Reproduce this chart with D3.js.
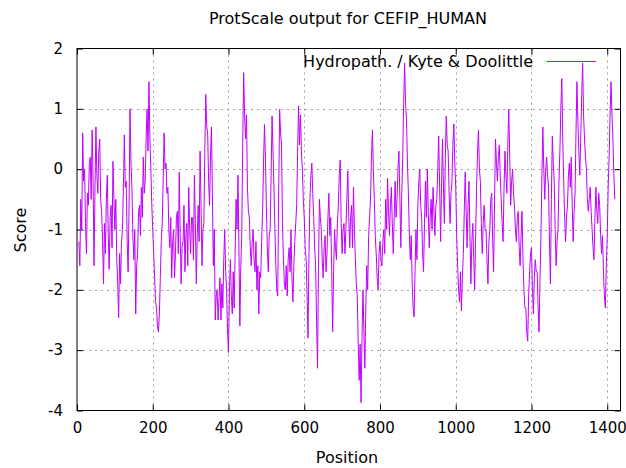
<!DOCTYPE html>
<html>
<head>
<meta charset="utf-8">
<script src="https://cdn.jsdelivr.net/npm/d3@7"></script>
<style>
  body { margin: 0; background: #fff; }
  text { font-family: "DejaVu Sans", sans-serif; fill: #000; }
</style>
</head>
<body>
<script>
// chart texts
var chartTitle = "ProtScale output for CEFIP_HUMAN";
var seriesName = "Hydropath. / Kyte & Doolittle";
var xTitle = "Position", yTitle = "Score";

// tick values
var xTicks = [0, 200, 400, 600, 800, 1000, 1200, 1400];
var yTicks = [-4, -3, -2, -1, 0, 1, 2];

// window scores, one every 2.5 residues starting at 5
var firstPos = 5, posStep = 2.5;
var scores = [
  -1.2, -1.6, -0.5, -1.0, 0.6, -0.2, 0.0, -0.9, -1.4, -0.4,
  -0.6, 0.1, 0.2, -0.5, 0.65, -0.2, -1.6, -0.3, 0.7, -0.1,
  -0.4, 0.3, 0.5, -0.5, -0.7, -1.2, -1.9, -0.9, -1.4, -0.5,
  -0.1, -1.1, -1.66, -0.8, -0.6, -1.3, 0.13, -0.5, -1.0, -0.5,
  -1.5, -1.9, -2.46, -1.4, -1.9, -1.2, -1.0, -0.3, 0.57, -0.3,
  -0.2, -1.2, -1.7, -0.6, 1.0, 0.1, -0.3, -1.1, -1.5, -1.0,
  -2.4, -1.6, -1.4, -0.7, -0.6, -1.1, -0.3, -0.8, 0.2, -0.4,
  -0.2, 0.5, 1.0, 0.3, 1.45, 0.5, 0.0, -0.6, -1.0, -1.4,
  -1.8, -2.2, -2.3, -2.6, -2.7, -2.4, -1.8, -1.2, -0.9, -0.2,
  0.6, 0.0, 0.1, -0.4, -0.3, -1.0, -1.3, -0.8, -1.8, -1.2,
  -1.0, -1.8, -1.4, -0.8, -0.7, -1.4, -0.05, -1.1, -1.9, -1.3,
  -1.2, -0.6, -1.7, -1.1, -0.9, -1.6, -0.3, -1.0, -1.4, -0.8,
  -0.8, -1.5, -0.1, -0.9, -1.9, -1.1, -0.6, -1.2, 0.3, -0.6,
  -1.6, -1.0, -0.9, 0.3, 1.24, 0.7, 0.6, -0.2, -0.6, 0.2,
  0.7, -0.4, -1.6, -1.0, -2.5, -2.1, -2.0, -2.5, -2.15, -1.8,
  -2.5, -1.9, -2.3, -1.5, -1.0, -1.7, -2.0, -2.7, -3.04, -2.0,
  -1.5, -2.1, -2.4, -1.7, -2.3, -1.4, -0.5, -1.0, -0.1, -1.3,
  -2.6, -1.6, -1.1, 0.4, 1.6, 0.9, 0.5, 0.9, -0.3, -0.7,
  -0.8, -1.3, -1.6, -1.2, -1.0, -1.5, -1.7, -1.2, -2.0, -1.6,
  -2.4, -1.7, -1.8, -1.2, -0.7, 0.1, 0.74, 0.2, -0.6, -1.3,
  -1.7, -1.1, -1.0, -0.1, 0.88, 0.3, -0.3, -1.0, -1.6, -2.0,
  -2.1, -0.4, 0.99, 0.6, 0.4, -0.9, -1.5, -1.9, -2.0, -1.6,
  -2.1, -1.5, -1.3, -1.7, -1.0, -1.8, -2.2, -1.6, -1.2, -0.9,
  -0.6, 0.3, 1.05, 0.4, 0.9, 0.3, 0.0, -0.5, -0.8, -1.3,
  -1.5, -2.1, -2.8, -1.4, -0.5, -0.1, 0.1, -0.4, -0.8, -1.3,
  -1.6, -2.5, -3.3, -1.7, -0.5, -0.8, -1.0, -1.5, -1.8, -1.3,
  -1.1, -1.7, -1.4, -0.8, -0.4, -1.1, -0.8, -1.7, -2.7, -1.7,
  -1.0, -1.3, -1.5, -0.9, -0.6, -0.1, 0.15, -0.9, -1.4, -1.0,
  -0.9, -1.4, -1.0, -0.5, -0.03, -0.8, -1.3, -0.8, -0.6, -1.3,
  -0.3, -1.0, -1.5, -1.9, -2.1, -2.9, -3.5, -2.9, -3.87, -2.8,
  -2.0, -2.7, -3.3, -2.3, -1.6, -2.0, -1.1, -0.8, -0.5, 0.2,
  0.65, 0.0, -0.5, -1.1, -1.4, -1.8, -2.0, -1.4, -1.2, -1.5,
  -1.6, -1.2, -1.0, -1.4, -0.5, -1.0, -0.15, -0.7, -1.1, -0.6,
  -0.3, -0.9, -1.4, -0.8, -0.2, -0.8, -0.5, 0.0, 0.3, -0.5,
  -1.3, -0.4, 0.2, 1.1, 1.76, 1.1, 0.8, 0.1, -0.4, -1.1,
  -1.5, -1.1, -1.9, -2.3, -2.45, -1.7, -1.0, -1.5, -0.6, -0.2,
  0.0, -0.6, -0.8, -1.4, -1.7, -0.9, -0.2, -0.8, 0.0, -0.7,
  -1.3, -0.8, -0.5, -1.0, -0.3, -0.7, -1.1, -0.6, -0.5, 0.0,
  0.55, -0.3, -1.2, -0.3, 0.5, -0.3, -0.9, 0.2, 0.88, 0.4,
  0.3, -0.4, -0.9, -0.4, -0.2, 0.4, 0.75, 0.1, -0.3, -1.1,
  -1.6, -2.0, -2.2, -1.7, -2.35, -1.8, -1.4, -0.7, -0.05, -0.7,
  -1.3, -0.6, -0.2, -1.1, -1.9, -1.2, -0.9, -1.5, -2.0, -1.1,
  -0.3, 0.3, 0.65, 0.0, -0.2, -0.9, -1.4, -0.9, -0.6, -1.0,
  -1.0, -1.5, -1.9, -1.2, -1.0, -0.5, -0.4, -1.2, -1.7, -0.5,
  0.5, 0.1, -0.2, 0.2, 0.4, -0.1, -0.5, -0.9, -1.2, -0.3,
  0.3, -0.1, -0.4, 0.4, 0.99, 0.2, -0.6, -0.2, 0.0, -0.4,
  -0.6, -1.0, -1.2, -0.8, -0.7, -1.3, -1.6, -1.1, -0.7, -1.5,
  -2.0, -2.3, -2.3, -2.7, -2.85, -2.1, -1.7, -1.4, -1.3, -2.0,
  -2.4, -1.8, -1.5, -1.7, -1.7, -2.3, -2.7, -1.8, -1.1, -0.1,
  0.7, 0.0, -0.5, 0.0, 0.2, -0.1, -0.3, -1.2, -1.9, -0.5,
  0.55, 0.1, -0.2, -1.0, -1.6, -1.2, -1.0, -0.2, 0.3, 1.0,
  1.5, 0.5, -0.2, -0.8, -1.2, -0.8, -0.6, -0.1, 0.1, -0.3,
  0.2, -0.6, -1.2, -0.7, -0.4, 0.6, 1.45, 0.8, 0.3, -0.1,
  0.5, 1.2, 1.76, 0.9, 0.5, 0.2, 0.0, -0.5, -0.7, -0.5,
  -0.3, -0.7, -1.0, -1.3, -1.5, -0.8, -0.3, -0.7, -0.9, -0.4,
  -0.6, -1.1, -1.4, -1.1, -1.7, -2.1, -2.3, -1.6, -1.1, -0.3,
  0.2, 0.9, 1.45, 0.9, 0.5, -0.1, -0.5
];
var seqLength = 1435;

var width = 626, height = 468;
var plot = {left: 77, right: 620.5, top: 48.5, bottom: 410.5};
var lineColor = "#c000ff";

var svg = d3.select("body").append("svg")
  .attr("width", width)
  .attr("height", height);

var x = d3.scaleLinear().domain([0, seqLength]).range([plot.left, plot.right]);
var y = d3.scaleLinear().domain([-4, 2]).range([plot.bottom, plot.top]);

// dotted grid
var grid = svg.append("g").attr("class", "grid")
  .attr("stroke", "#a0a0a0").attr("stroke-width", 1).attr("stroke-dasharray", "2,4");
grid.selectAll(".gx").data(xTicks.filter(function(d) { return d > 0; }))
  .enter().append("line")
  .attr("x1", function(d) { return Math.round(x(d)) + 0.5; })
  .attr("x2", function(d) { return Math.round(x(d)) + 0.5; })
  .attr("y1", plot.top).attr("y2", plot.bottom);
grid.selectAll(".gy").data(yTicks.filter(function(d) { return d > -4 && d < 2; }))
  .enter().append("line")
  .attr("y1", function(d) { return Math.round(y(d)) + 0.5; })
  .attr("y2", function(d) { return Math.round(y(d)) + 0.5; })
  .attr("x1", plot.left).attr("x2", plot.right);

// axes, ticks inward on all four sides (gnuplot mirror)
var tickLen = 6;
svg.append("g")
  .attr("transform", "translate(0," + plot.bottom + ")")
  .call(d3.axisBottom(x).tickValues(xTicks).tickSizeInner(-tickLen).tickSizeOuter(0).tickPadding(12)
    .tickFormat(function(d) { return String(d); }))
  .call(function(g) { g.select(".domain").remove(); g.selectAll("text").attr("font-size", 15).attr("font-family", "DejaVu Sans"); });
svg.append("g")
  .attr("transform", "translate(0," + plot.top + ")")
  .call(d3.axisTop(x).tickValues(xTicks).tickSizeInner(-tickLen).tickSizeOuter(0).tickFormat(""))
  .call(function(g) { g.select(".domain").remove(); });
svg.append("g")
  .attr("transform", "translate(" + plot.left + ",0)")
  .call(d3.axisLeft(y).tickValues(yTicks).tickSizeInner(-tickLen).tickSizeOuter(0).tickPadding(14)
    .tickFormat(function(d) { return String(d); }))
  .call(function(g) { g.select(".domain").remove(); g.selectAll("text").attr("font-size", 15).attr("font-family", "DejaVu Sans"); });
svg.append("g")
  .attr("transform", "translate(" + plot.right + ",0)")
  .call(d3.axisRight(y).tickValues(yTicks).tickSizeInner(-tickLen).tickSizeOuter(0).tickFormat(""))
  .call(function(g) { g.select(".domain").remove(); });

// the data line
var line = d3.line()
  .x(function(d, i) { return x(firstPos + i * posStep); })
  .y(function(d) { return y(d); });
svg.append("path")
  .datum(scores)
  .attr("fill", "none")
  .attr("stroke", lineColor)
  .attr("stroke-width", 1)
  .attr("d", line);

// border
svg.append("rect")
  .attr("x", plot.left).attr("y", plot.top)
  .attr("width", plot.right - plot.left).attr("height", plot.bottom - plot.top)
  .attr("fill", "none").attr("stroke", "#000").attr("stroke-width", 1);

// legend (top right, inside)
svg.append("text")
  .attr("x", 533).attr("y", 67)
  .attr("text-anchor", "end").attr("font-size", 16)
  .text(seriesName);
svg.append("line")
  .attr("x1", 547).attr("x2", 596).attr("y1", 61.5).attr("y2", 61.5)
  .attr("stroke", lineColor).attr("stroke-width", 1);

// titles
svg.append("text")
  .attr("x", 348).attr("y", 24)
  .attr("text-anchor", "middle").attr("font-size", 16)
  .text(chartTitle);
svg.append("text")
  .attr("x", 347).attr("y", 463)
  .attr("text-anchor", "middle").attr("font-size", 16)
  .text(xTitle);
svg.append("text")
  .attr("transform", "translate(26,230) rotate(-90)")
  .attr("text-anchor", "middle").attr("font-size", 16)
  .text(yTitle);
</script>
</body>
</html>
